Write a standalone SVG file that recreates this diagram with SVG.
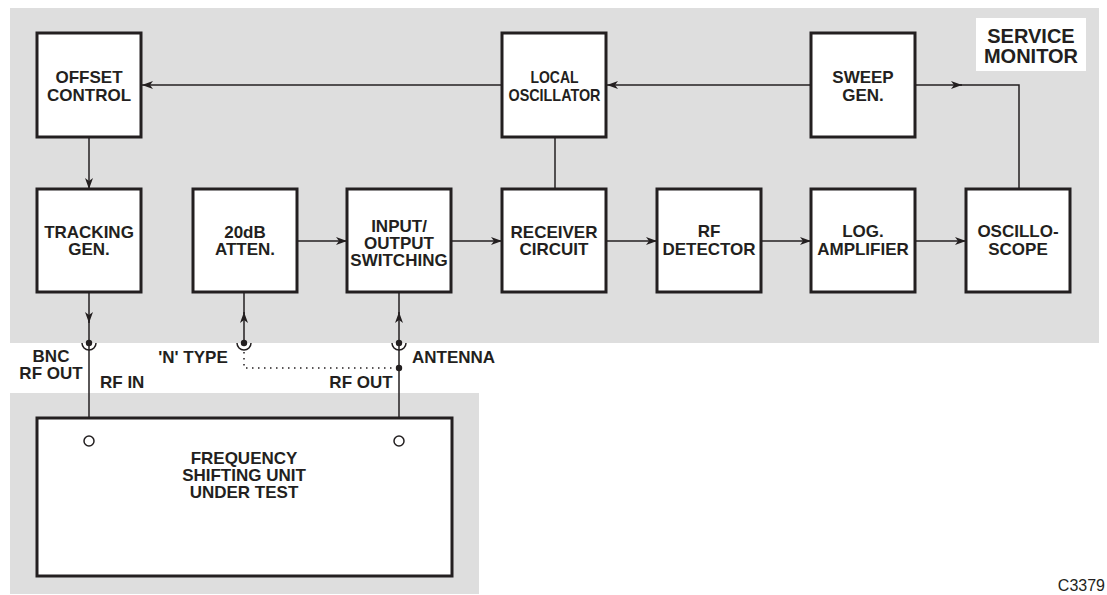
<svg xmlns="http://www.w3.org/2000/svg" width="1107" height="595" viewBox="0 0 1107 595">
<defs>
<style>
.bg{fill:#dedede;stroke:none}
.box{fill:#fff;stroke:#231f20;stroke-width:3}
.ln{fill:none;stroke:#231f20;stroke-width:1.5}
.dot{fill:none;stroke:#231f20;stroke-width:1.5;stroke-dasharray:1.5 4.5}
text{font-family:"Liberation Sans",Arial,sans-serif;font-weight:bold;font-size:17px;fill:#231f20;text-anchor:middle}
.big{font-size:20px}
.small{font-weight:normal;font-size:16px;text-anchor:end}
.lbl{text-anchor:start}
</style>
<marker id="ah" markerWidth="12" markerHeight="10" refX="11" refY="5" orient="auto" markerUnits="userSpaceOnUse">
<path d="M0,1 L11,5 L0,9 L3,5 Z" fill="#231f20"/>
</marker>
</defs>
<rect class="bg" x="10" y="8" width="1089" height="335"/>
<rect class="bg" x="10" y="393" width="469" height="201"/>
<rect x="976" y="18" width="110" height="53" fill="#fff"/>
<text class="big" x="1031" y="43">SERVICE</text>
<text class="big" x="1031" y="63">MONITOR</text>

<g id="connectors">
<path class="ln" d="M502,85 L142,85" marker-end="url(#ah)"/>
<path class="ln" d="M811,85 L607,85" marker-end="url(#ah)"/>
<path class="ln" d="M915,85 L962,85" marker-end="url(#ah)"/>
<path class="ln" d="M960,85 L1019,85 L1019,189"/>
<path class="ln" d="M89,137 L89,189" marker-end="url(#ah)"/>
<path class="ln" d="M555,137 L555,189"/>
<path class="ln" d="M297,241 L347,241" marker-end="url(#ah)"/>
<path class="ln" d="M451,241 L502,241" marker-end="url(#ah)"/>
<path class="ln" d="M606,241 L657,241" marker-end="url(#ah)"/>
<path class="ln" d="M761,241 L811,241" marker-end="url(#ah)"/>
<path class="ln" d="M915,241 L966,241" marker-end="url(#ah)"/>
<path class="ln" d="M89,292 L89,323" marker-end="url(#ah)"/>
<path class="ln" d="M89,320 L89,436"/>
<path class="ln" d="M244,343 L244,312" marker-end="url(#ah)"/>
<path class="ln" d="M244,314 L244,292"/>
<path class="ln" d="M399,343 L399,312" marker-end="url(#ah)"/>
<path class="ln" d="M399,314 L399,292"/>
<path class="ln" d="M399,343 L399,436"/>
<path class="dot" d="M244,352 L244,368 L396,368"/>
<circle cx="89" cy="343" r="3.2" fill="#231f20"/>
<circle cx="244" cy="343" r="3.2" fill="#231f20"/>
<circle cx="399" cy="343" r="3.2" fill="#231f20"/>
<circle cx="399" cy="368" r="3.2" fill="#231f20"/>
<path class="ln" d="M82,343 A7,7 0 0 0 96,343"/>
<path class="ln" d="M237,343 A7,7 0 0 0 251,343"/>
<path class="ln" d="M392,343 A7,7 0 0 0 406,343"/>
</g>

<g id="offset-control"><rect class="box" x="37" y="33" width="104" height="104"/><text x="89" y="83">OFFSET</text><text x="89" y="101">CONTROL</text></g>
<g id="local-oscillator"><rect class="box" x="502" y="33" width="104" height="104"/><text x="554.5" y="83" textLength="48" lengthAdjust="spacingAndGlyphs">LOCAL</text><text x="554.5" y="101" textLength="92" lengthAdjust="spacingAndGlyphs">OSCILLATOR</text></g>
<g id="sweep-gen"><rect class="box" x="811" y="33" width="104" height="104"/><text x="863" y="83">SWEEP</text><text x="863" y="101">GEN.</text></g>
<g id="tracking-gen"><rect class="box" x="37" y="189" width="104" height="103"/><text x="89" y="238">TRACKING</text><text x="89" y="255">GEN.</text></g>
<g id="atten"><rect class="box" x="193" y="189" width="104" height="103"/><text x="245" y="238">20dB</text><text x="245" y="255">ATTEN.</text></g>
<g id="io-switching"><rect class="box" x="347" y="189" width="104" height="103"/><text x="399" y="232">INPUT/</text><text x="399" y="249">OUTPUT</text><text x="399" y="266">SWITCHING</text></g>
<g id="receiver"><rect class="box" x="502" y="189" width="104" height="103"/><text x="554" y="238">RECEIVER</text><text x="554" y="255">CIRCUIT</text></g>
<g id="rf-detector"><rect class="box" x="657" y="189" width="104" height="103"/><text x="709" y="237">RF</text><text x="709" y="255">DETECTOR</text></g>
<g id="log-amp"><rect class="box" x="811" y="189" width="104" height="103"/><text x="863" y="237">LOG.</text><text x="863" y="255">AMPLIFIER</text></g>
<g id="oscilloscope"><rect class="box" x="966" y="189" width="104" height="103"/><text x="1018" y="237">OSCILLO-</text><text x="1018" y="255">SCOPE</text></g>

<g id="unit-under-test">
<rect class="box" x="37" y="418" width="415" height="158"/>
<circle cx="89" cy="441" r="5" fill="#fff" stroke="#231f20" stroke-width="1.5"/>
<circle cx="399" cy="441" r="5" fill="#fff" stroke="#231f20" stroke-width="1.5"/>
<text x="244" y="464">FREQUENCY</text>
<text x="244" y="481">SHIFTING UNIT</text>
<text x="244" y="498">UNDER TEST</text>
</g>

<text x="51" y="362">BNC</text>
<text x="51" y="379">RF OUT</text>
<text class="lbl" x="100" y="388">RF IN</text>
<text x="193" y="363">'N' TYPE</text>
<text class="lbl" x="412" y="363">ANTENNA</text>
<text x="361" y="388">RF OUT</text>
<text class="small" x="1105" y="591">C3379</text>
</svg>
